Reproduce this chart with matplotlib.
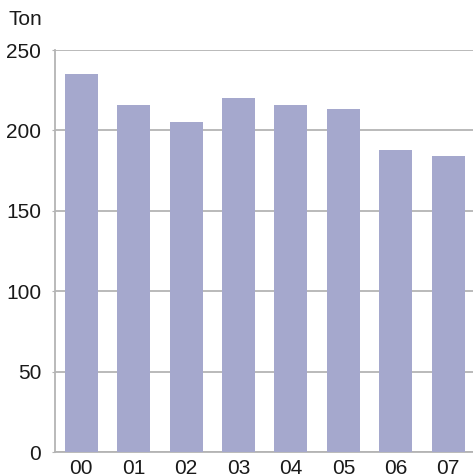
import matplotlib
matplotlib.use("Agg")
import matplotlib.pyplot as plt

categories = ["00", "01", "02", "03", "04", "05", "06", "07"]
values = [235, 216, 205, 220, 216, 213, 188, 184]
yticks = [0, 50, 100, 150, 200, 250]

plt.rcParams['font.family'] = ['Liberation Sans', 'DejaVu Sans']

fig = plt.figure(figsize=(4.73, 4.76), dpi=100)
ax = fig.add_axes([55/473, 24/476, 1 - 55/473 + 0.003, (452-50)/476])

x = list(range(len(categories)))
ax.bar(x, values, width=0.63, color="#a5a8cd", zorder=3)
ax.set_xlim(-0.5, 7.5)
ax.set_ylim(0, 250)
ax.set_yticks(yticks)
ax.set_xticks(x)
ax.set_xticklabels(categories)
grid_c = "#b4b4b4"
ax.yaxis.grid(True, color=grid_c, linewidth=1.3, zorder=0)
for s in ["top", "right"]:
    ax.spines[s].set_visible(False)
for s in ["left", "bottom"]:
    ax.spines[s].set_color(grid_c)
    ax.spines[s].set_linewidth(1.3)
ax.tick_params(axis="y", length=2, color=grid_c, pad=8, labelsize=15, labelcolor="#1a1a1a")
ax.tick_params(axis="x", length=0, pad=5, labelsize=15, labelcolor="#1a1a1a")
fig.text(8/473, 1 - 25/476, "Ton", fontsize=15, color="#1a1a1a", ha="left", va="baseline")
fig.savefig("out.png", dpi=100)
